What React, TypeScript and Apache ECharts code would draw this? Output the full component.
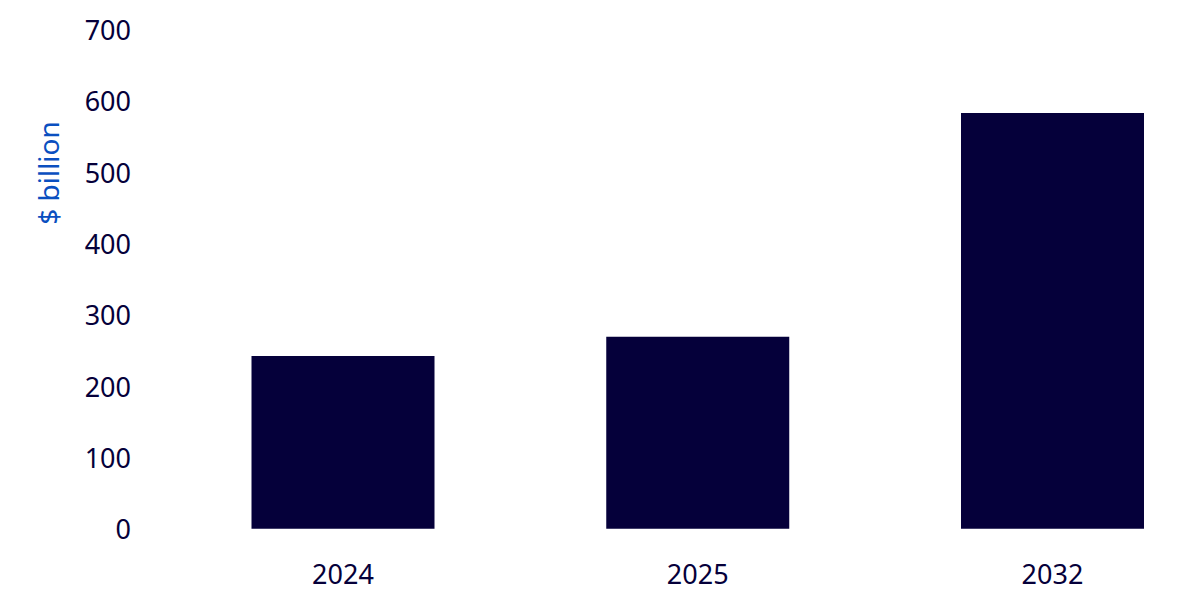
import React, { useEffect, useRef } from "react";
import * as echarts from "echarts";

const categories = ["2024", "2025", "2032"];
const values = [242, 269, 583];
const yTicks = { min: 0, max: 700, interval: 100 };
const axisTitle = "$ billion";

const NAVY = "#05003a";
const BLUE = "#0a4fc0";
const FONT = "'Noto Sans', sans-serif";

export default function App() {
  const ref = useRef<HTMLDivElement>(null);
  useEffect(() => {
    if (!ref.current) return;
    const chart = echarts.init(ref.current, null, { renderer: "svg" });
    chart.setOption({
      animation: false,
      grid: { left: 343, right: 125.5, top: 29.5, bottom: 83.3 },
      xAxis: {
        type: "category",
        data: categories,
        boundaryGap: false,
        axisLine: { show: false },
        axisTick: { show: false },
        axisLabel: { color: NAVY, fontSize: 27, fontFamily: FONT, margin: 31 },
      },
      yAxis: {
        type: "value",
        min: yTicks.min,
        max: yTicks.max,
        interval: yTicks.interval,
        splitLine: { show: false },
        axisLine: { show: false },
        axisTick: { show: false },
        axisLabel: {
          color: NAVY,
          fontSize: 27,
          fontFamily: FONT,
          margin: 212,
          align: "right",
          padding: [0, 0, 5, 0],
        },
      },
      graphic: [
        {
          type: "text",
          x: 48,
          y: 173,
          rotation: Math.PI / 2,
          style: {
            text: axisTitle,
            fill: BLUE,
            fontSize: 28,
            fontFamily: FONT,
            align: "center",
            verticalAlign: "middle",
          },
        },
      ],
      series: [
        {
          type: "bar",
          data: values,
          barWidth: 183,
          clip: false,
          itemStyle: { color: NAVY },
        },
      ],
    });
    return () => chart.dispose();
  }, []);
  return <div ref={ref} style={{ width: 1178, height: 612, margin: -8 }} />;
}
